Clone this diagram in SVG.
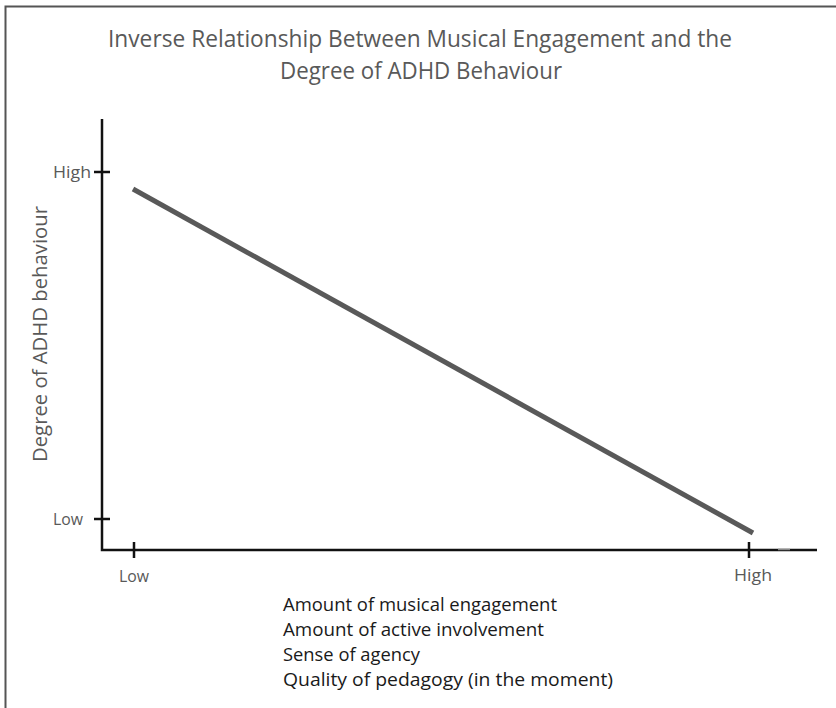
<svg xmlns="http://www.w3.org/2000/svg" width="836" height="708" viewBox="0 0 836 708">
<style>
.t{font-family:"Open Sans","Liberation Sans",sans-serif;fill:#595959}
.title{font-size:23px}
.lab{font-size:16.5px}
.ax{stroke:#111;stroke-width:2.5;fill:none}
.desc{font-family:"Open Sans","Liberation Sans",sans-serif;font-size:18px;fill:#1a1a1a}
</style>
<rect x="0" y="0" width="836" height="708" fill="#fff"/>
<path d="M5.5,708 V6.5 H836" stroke="#555" stroke-width="2" fill="none"/>
<g id="title">
<text class="t title" x="420" y="47" text-anchor="middle" textLength="624" lengthAdjust="spacingAndGlyphs">Inverse Relationship Between Musical Engagement and the</text>
<text class="t title" x="421" y="79" text-anchor="middle" textLength="282" lengthAdjust="spacingAndGlyphs">Degree of ADHD Behaviour</text>
</g>
<g id="axes">
<path class="ax" d="M102,119 V550 H817"/>
<path class="ax" d="M94,172 H110 M94,519 H110 M134,542 V558 M749,542 V558"/>
<path d="M778,549.5 H790" stroke="#888" stroke-width="1.5"/>
</g>
<g id="ylabel">
<text class="t" font-size="19.5" transform="translate(47,334) rotate(-90)" text-anchor="middle" textLength="256" lengthAdjust="spacingAndGlyphs">Degree of ADHD behaviour</text>
<text class="t lab" x="91" y="178" text-anchor="end" textLength="38" lengthAdjust="spacingAndGlyphs">High</text>
<text class="t lab" x="83" y="525" text-anchor="end" textLength="30" lengthAdjust="spacingAndGlyphs">Low</text>
</g>
<g id="xlabel">
<text class="t lab" x="134" y="582" text-anchor="middle" textLength="30" lengthAdjust="spacingAndGlyphs">Low</text>
<text class="t lab" x="753" y="581" text-anchor="middle" textLength="38" lengthAdjust="spacingAndGlyphs">High</text>
</g>
<g id="trend">
<path d="M133,189 L753,533" stroke="#595959" stroke-width="5" fill="none"/>
</g>
<g id="desc">
<text class="desc" x="283" y="611" textLength="274" lengthAdjust="spacingAndGlyphs">Amount of musical engagement</text>
<text class="desc" x="283" y="636" textLength="261" lengthAdjust="spacingAndGlyphs">Amount of active involvement</text>
<text class="desc" x="283" y="661" textLength="137" lengthAdjust="spacingAndGlyphs">Sense of agency</text>
<text class="desc" x="283" y="686" textLength="330" lengthAdjust="spacingAndGlyphs">Quality of pedagogy (in the moment)</text>
</g>
</svg>
